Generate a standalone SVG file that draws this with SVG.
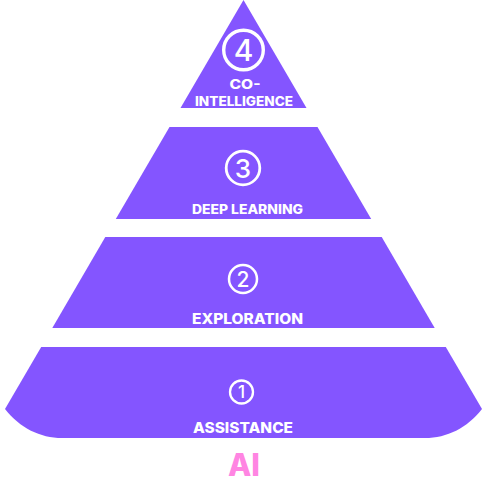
<svg xmlns="http://www.w3.org/2000/svg" width="500" height="500" viewBox="0 0 500 500">
<style>
.tier{fill:#8455FF}
.ring{fill:none;stroke:#FFFFFF}
.num{fill:#FFFFFF;font-family:Inter,"Open Sans","Liberation Sans",sans-serif;font-weight:500;text-anchor:middle}
.lbl{fill:#FFFFFF;font-family:Inter,"Open Sans","Liberation Sans",sans-serif;font-weight:800;text-anchor:middle}
.ai{fill:#FF85E2;font-family:Inter,"Open Sans","Liberation Sans",sans-serif;font-weight:800;text-anchor:middle}
</style>
<rect width="500" height="500" fill="#FFFFFF"/>
<g id="tier4">
<polygon class="tier" points="243.5,0 306.5,108 180.5,108"/>
<circle class="ring" cx="243.5" cy="50" r="19.8" stroke-width="3.4"/>
<text class="num" x="243.5" y="61" font-size="30">4</text>
<text class="lbl" x="245" y="89" font-size="13" textLength="31" lengthAdjust="spacingAndGlyphs">CO-</text>
<text class="lbl" x="244" y="106" font-size="13" textLength="98" lengthAdjust="spacingAndGlyphs">INTELLIGENCE</text>
</g>
<g id="tier3">
<polygon class="tier" points="169.5,127 317.5,127 371.2,219 115.8,219"/>
<circle class="ring" cx="243" cy="168" r="16.8" stroke-width="2.8"/>
<text class="num" x="243" y="177.5" font-size="26">3</text>
<text class="lbl" x="247.5" y="214" font-size="12.5" textLength="111" lengthAdjust="spacingAndGlyphs">DEEP LEARNING</text>
</g>
<g id="tier2">
<polygon class="tier" points="105.3,237 381.7,237 434.7,328 52.3,328"/>
<circle class="ring" cx="243" cy="279" r="14" stroke-width="2.5"/>
<text class="num" x="243" y="286.5" font-size="21">2</text>
<text class="lbl" x="247.5" y="324" font-size="14" textLength="111" lengthAdjust="spacingAndGlyphs">EXPLORATION</text>
</g>
<g id="tier1">
<path class="tier" d="M41.2,347 L445.8,347 L482,409 C467,428 447,438 425,438 L62,438 C40,438 20,428 5,409 Z"/>
<circle class="ring" cx="241.5" cy="392" r="11.5" stroke-width="2.3"/>
<text class="num" x="241.5" y="398" font-size="17">1</text>
<text class="lbl" x="243" y="433" font-size="14.5" textLength="100" lengthAdjust="spacingAndGlyphs">ASSISTANCE</text>
</g>
<text class="ai" x="244" y="476" font-size="31" textLength="32" lengthAdjust="spacingAndGlyphs">AI</text>
</svg>
